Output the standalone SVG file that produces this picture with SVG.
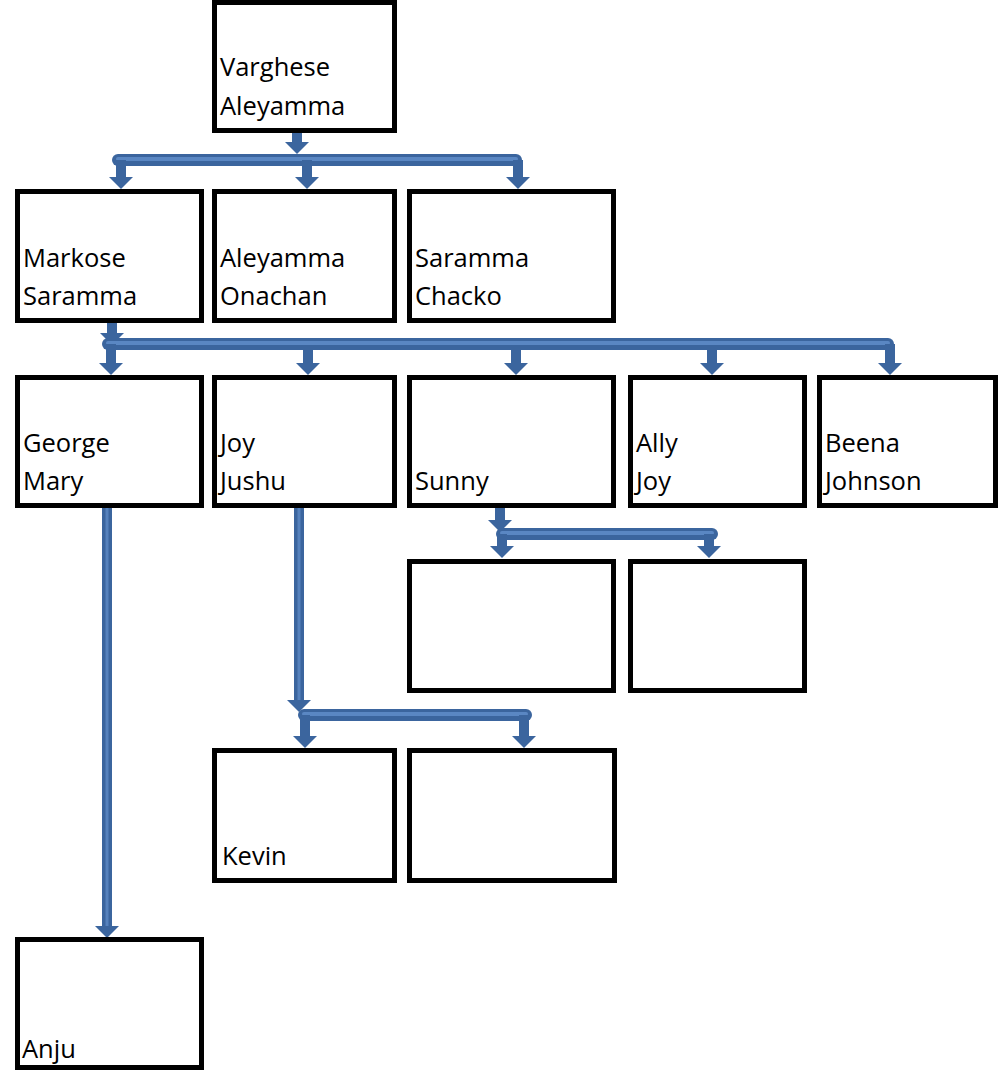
<svg xmlns="http://www.w3.org/2000/svg" width="1000" height="1072" viewBox="0 0 1000 1072">
<style>
.box{fill:#fff;stroke:#000;stroke-width:5}
.t{font-family:"Open Sans","Noto Sans","DejaVu Sans",sans-serif;font-size:25.5px;fill:#000}
.sh{stroke:#3B659E;stroke-width:10;fill:none}
.hl{stroke:#5682BD;stroke-width:3;fill:none}
.bar{stroke:#3B659E;stroke-width:12;stroke-linecap:round;fill:none}
.barhl{stroke:#5A87C3;stroke-width:4;stroke-linecap:round;fill:none}
</style>
<defs>
<marker id="ah" markerUnits="userSpaceOnUse" viewBox="0 0 12 24" refX="0" refY="12" markerWidth="12" markerHeight="24" orient="auto">
<path d="M0,0 L12,12 L0,24 z" fill="#3B659E"/>
</marker>
</defs>
<g id="connectors">
<line class="sh" x1="297" y1="128" x2="297" y2="142" marker-end="url(#ah)"/>
<line class="bar" x1="118" y1="160" x2="516" y2="160"/>
<line class="barhl" x1="118" y1="159" x2="516" y2="159"/>
<line class="sh" x1="121" y1="160" x2="121" y2="177" marker-end="url(#ah)"/>
<line class="sh" x1="307" y1="160" x2="307" y2="177" marker-end="url(#ah)"/>
<line class="sh" x1="518" y1="160" x2="518" y2="177" marker-end="url(#ah)"/>

<line class="sh" x1="112" y1="320" x2="112" y2="333" marker-end="url(#ah)"/>
<line class="bar" x1="108" y1="344" x2="888" y2="344"/>
<line class="barhl" x1="108" y1="343" x2="888" y2="343"/>
<line class="sh" x1="111" y1="344" x2="111" y2="363" marker-end="url(#ah)"/>
<line class="sh" x1="308" y1="350" x2="308" y2="363" marker-end="url(#ah)"/>
<line class="sh" x1="516" y1="350" x2="516" y2="363" marker-end="url(#ah)"/>
<line class="sh" x1="712" y1="350" x2="712" y2="363" marker-end="url(#ah)"/>
<line class="sh" x1="890" y1="344" x2="890" y2="363" marker-end="url(#ah)"/>

<line class="sh" x1="500" y1="505" x2="500" y2="520" marker-end="url(#ah)"/>
<line class="bar" x1="502" y1="534" x2="712" y2="534"/>
<line class="barhl" x1="502" y1="533" x2="712" y2="533"/>
<line class="sh" x1="502" y1="534" x2="502" y2="546" marker-end="url(#ah)"/>
<line class="sh" x1="709" y1="534" x2="709" y2="546" marker-end="url(#ah)"/>

<line class="sh" x1="299" y1="506" x2="299" y2="700" marker-end="url(#ah)"/>
<line class="hl" x1="299" y1="506" x2="299" y2="700"/>
<line class="bar" x1="304" y1="715" x2="526" y2="715"/>
<line class="barhl" x1="304" y1="714" x2="526" y2="714"/>
<line class="sh" x1="305" y1="715" x2="305" y2="736" marker-end="url(#ah)"/>
<line class="sh" x1="524" y1="715" x2="524" y2="736" marker-end="url(#ah)"/>

<line class="sh" x1="107" y1="506" x2="107" y2="926" marker-end="url(#ah)"/>
<line class="hl" x1="107" y1="506" x2="107" y2="926"/>
</g>
<g id="n-varghese"><rect class="box" x="214.5" y="2.5" width="180" height="128"/><text class="t" x="220" y="76">Varghese</text><text class="t" x="220" y="115">Aleyamma</text></g>
<g id="n-markose"><rect class="box" x="17.5" y="191.5" width="184" height="129"/><text class="t" x="23" y="267">Markose</text><text class="t" x="23" y="305">Saramma</text></g>
<g id="n-aleyamma"><rect class="box" x="214.5" y="191.5" width="180" height="129"/><text class="t" x="220" y="267">Aleyamma</text><text class="t" x="220" y="305">Onachan</text></g>
<g id="n-saramma"><rect class="box" x="409.5" y="191.5" width="204" height="129"/><text class="t" x="415" y="267">Saramma</text><text class="t" x="415" y="305">Chacko</text></g>
<g id="n-george"><rect class="box" x="17.5" y="377.5" width="184" height="128"/><text class="t" x="23" y="452">George</text><text class="t" x="23" y="490">Mary</text></g>
<g id="n-joy"><rect class="box" x="214.5" y="377.5" width="180" height="128"/><text class="t" x="220" y="452">Joy</text><text class="t" x="220" y="490">Jushu</text></g>
<g id="n-sunny"><rect class="box" x="409.5" y="377.5" width="204" height="128"/><text class="t" x="415" y="490">Sunny</text></g>
<g id="n-ally"><rect class="box" x="630.5" y="377.5" width="174" height="128"/><text class="t" x="636" y="452">Ally</text><text class="t" x="636" y="490">Joy</text></g>
<g id="n-beena"><rect class="box" x="819.5" y="377.5" width="176" height="128"/><text class="t" x="825" y="452">Beena</text><text class="t" x="825" y="490">Johnson</text></g>
<g id="n-sunny-c1"><rect class="box" x="409.5" y="561.5" width="204" height="129"/></g>
<g id="n-sunny-c2"><rect class="box" x="630.5" y="561.5" width="174" height="129"/></g>
<g id="n-kevin"><rect class="box" x="214.5" y="750.5" width="180" height="130"/><text class="t" x="222" y="865">Kevin</text></g>
<g id="n-joy-c2"><rect class="box" x="409.5" y="750.5" width="205" height="130"/></g>
<g id="n-anju"><rect class="box" x="17.5" y="939.5" width="184" height="128"/><text class="t" x="22" y="1058">Anju</text></g>
</svg>
